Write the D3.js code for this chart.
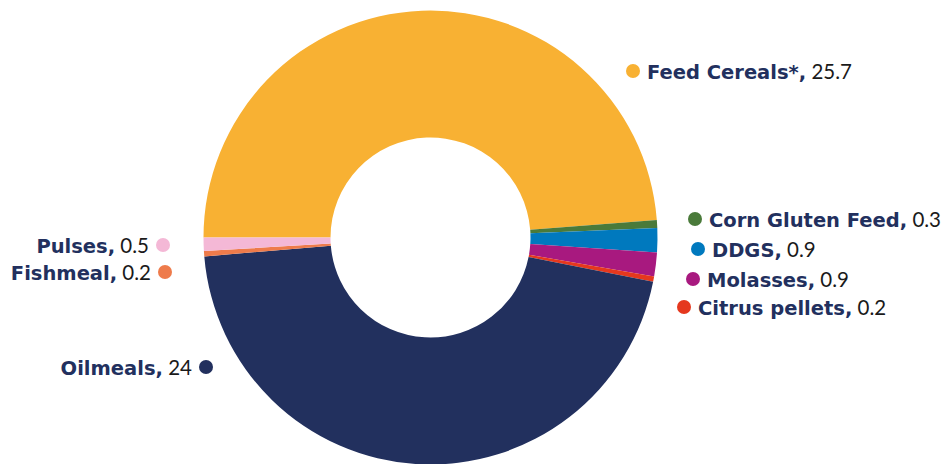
<!DOCTYPE html>
<html>
<head>
<meta charset="utf-8">
<script src="https://cdn.jsdelivr.net/npm/d3@7"></script>
<style>
  body { margin: 0; background: #fff; }
  svg { display: block; }
</style>
</head>
<body>
<svg id="chart"></svg>
<script>
const categories = ["Feed Cereals*", "Corn Gluten Feed", "DDGS", "Molasses", "Citrus pellets", "Oilmeals", "Fishmeal", "Pulses"];
const values = [25.7, 0.3, 0.9, 0.9, 0.2, 24, 0.2, 0.5];
const colors = ["#f8b133", "#4a7a3a", "#0079be", "#a8197f", "#e5381e", "#22305e", "#ee7b4b", "#f4b8d6"];

// label layout (dot centre, side of text)
const labelLayout = [
    { x: 633, y: 71, side: "right" },
    { x: 695, y: 219, side: "right" },
    { x: 698, y: 249, side: "right" },
    { x: 693, y: 279, side: "right" },
    { x: 684, y: 307, side: "right" },
    { x: 206, y: 367, side: "left" },
    { x: 165, y: 272, side: "left" },
    { x: 163, y: 245, side: "left" }
];

const width = 949, height = 464;
const cx = 430.5, cy = 237.5,
    outerR = 227, innerR = 100;

const svg = d3.select('#chart')
    .attr("width", width)
    .attr("height", height);

const data = categories.map((c, i) => ({ name: c, value: values[i], color: colors[i] }));

const pie = d3.pie()
    .value(d => d.value)
    .sort(null)
    .startAngle(-Math.PI / 2)
    .endAngle(3 * Math.PI / 2);

const arc = d3.arc()
    .innerRadius(innerR)
    .outerRadius(outerR);

const g = svg.append("g")
    .attr("transform", "translate(" + cx + "," + cy + ")");

g.selectAll("path")
    .data(pie(data))
    .enter()
    .append("path")
    .attr("d", arc)
    .attr("fill", d => d.data.color);

const labels = svg.selectAll(".label")
    .data(data)
    .enter()
    .append("g")
    .attr("class", "label")
    .attr("transform", (d, i) => "translate(" + labelLayout[i].x + "," + labelLayout[i].y + ")");

labels.append("circle")
    .attr("r", 7)
    .attr("fill", d => d.color);

labels.append("text")
    .attr("x", (d, i) => labelLayout[i].side == "right" ? 14 : -14)
    .attr("y", 7.5)
    .attr("text-anchor", (d, i) => labelLayout[i].side == "right" ? "start" : "end")
    .each(function (d) {
        const t = d3.select(this);
        t.append("tspan")
            .attr("fill", "#22305e")
            .style("font-family", "'DejaVu Sans', sans-serif")
            .style("font-size", "19.5px")
            .attr("font-weight", "bold")
            .text(d.name + ",");
        t.append("tspan")
            .attr("fill", "#1a1a1a")
            .style("font-family", "Lato, sans-serif")
            .style("font-size", "20.5px")
            .text(" " + d.value);
    });
</script>
</body>
</html>
